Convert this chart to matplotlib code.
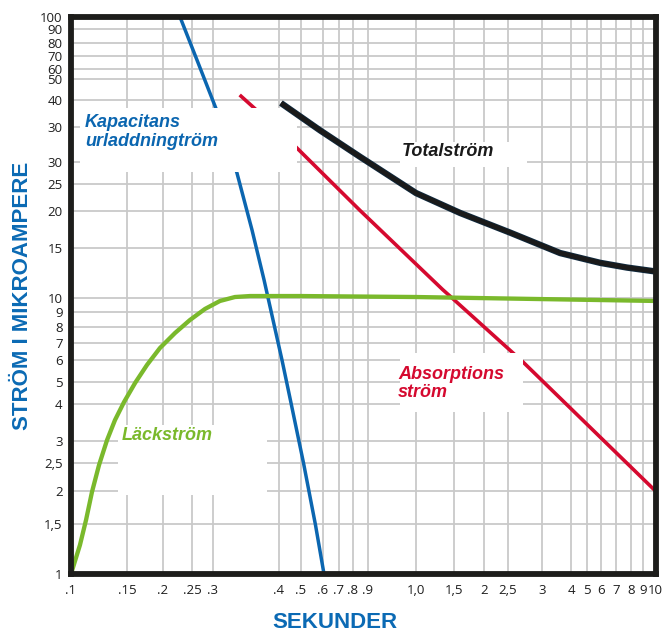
import numpy as np
import matplotlib
matplotlib.use("Agg")
import matplotlib.pyplot as plt
from matplotlib.ticker import NullLocator, FixedLocator, FixedFormatter
from matplotlib.patches import Rectangle

# ---------------- data ----------------
x_tick_values = [0.1, 0.15, 0.2, 0.25, 0.3, 0.4, 0.5, 0.6, 0.7, 0.8, 0.9,
                 1.0, 1.5, 2, 2.5, 3, 4, 5, 6, 7, 8, 9, 10]
x_tick_labels = ['.1', '.15', '.2', '.25', '.3', '.4', '.5', '.6', '.7', '.8', '.9',
                 '1,0', '1,5', '2', '2,5', '3', '4', '5', '6', '7', '8', '9', '10']
y_tick_values = [1, 1.5, 2, 2.5, 3, 4, 5, 6, 7, 8, 9, 10, 15, 20, 25, 30, 35,
                 40, 50, 60, 70, 80, 90, 100]
y_tick_labels = ['1', '1,5', '2', '2,5', '3', '4', '5', '6', '7', '8', '9', '10',
                 '15', '20', '25', '30', '30', '40', '50', '60', '70', '80', '90', '100']

# Kapacitans urladdningström
cap_x = [0.228, 0.261, 0.3046, 0.333, 0.3556, 0.3748, 0.4123, 0.4519, 0.5105, 0.5638, 0.6058]
cap_y = [100, 66.8, 38.1, 27.4, 17.26, 11.57, 6.0, 4.04, 2.5, 1.488, 1.0]

# Absorptionsström
abs_x = [0.337, 0.40, 0.48, 0.845, 1.33, 1.47, 2.71, 10]
abs_y = [42.2, 34.5, 31.9, 20.1, 10.7, 10.0, 5.9, 2.0]

# Läckström
leak_x = [0.1, 0.1067, 0.1115, 0.1164, 0.1225, 0.1298, 0.1375, 0.1468, 0.16, 0.176,
          0.1952, 0.2194, 0.246, 0.2799, 0.3093, 0.3301, 0.3524, 0.5, 1.0, 10]
leak_y = [1.0, 1.265, 1.553, 1.983, 2.46, 3.02, 3.53, 4.08, 4.95, 5.76,
          6.69, 7.61, 8.45, 9.21, 9.78, 10.08, 10.16, 10.16, 10.08, 9.78]

# Totalström
tot_x = [0.408, 0.585, 0.845, 1.0, 1.59, 2.53, 3.59, 5.93, 7.72, 10]
tot_y = [39.4, 34.5, 30.7, 23.2, 19.7, 16.9, 14.4, 13.3, 12.8, 12.4]

# ---------------- irregular printed grid scale (layout) ----------------
x_grid_pos = np.array([71, 127, 163, 192, 213, 279, 301, 323, 339, 353, 368,
                       416, 454, 484, 508, 542, 571, 587, 601, 616, 631, 643, 655.5], float)
y_grid_pos = -np.array([574, 524, 491, 463, 441, 404, 382, 360, 343, 327, 312, 298,
                        248, 211, 184, 162, 127, 100, 79, 69, 56, 43, 29, 17], float)

lx = np.log10(np.array(x_tick_values, float))
ly = np.log10(np.array(y_tick_values, float))


def make_funcs(logv, pos):
    def fwd(v):
        v = np.asarray(v, float)
        return np.interp(np.log10(np.clip(v, 1e-9, None)), logv, pos)

    def inv(p):
        p = np.asarray(p, float)
        return 10 ** np.interp(p, pos, logv)
    return fwd, inv


fx, fx_inv = make_funcs(lx, x_grid_pos)
fy, fy_inv = make_funcs(ly, y_grid_pos)

# ---------------- figure ----------------
fig = plt.figure(figsize=(6.67, 6.33), dpi=100)
ax = fig.add_axes([71 / 667, 1 - 574 / 633, 584.5 / 667, 557 / 633])
ax.set_xscale('function', functions=(fx, fx_inv))
ax.set_yscale('function', functions=(fy, fy_inv))
ax.set_xlim(0.1, 10)
ax.set_ylim(1, 100)

ax.xaxis.set_major_locator(FixedLocator(x_tick_values))
ax.xaxis.set_major_formatter(FixedFormatter(x_tick_labels))
ax.yaxis.set_major_locator(FixedLocator(y_tick_values))
ax.yaxis.set_major_formatter(FixedFormatter(y_tick_labels))
ax.xaxis.set_minor_locator(NullLocator())
ax.yaxis.set_minor_locator(NullLocator())

ax.set_axisbelow(True)
ax.grid(True, color='#c9c9c9', linewidth=1.3)
ax.tick_params(length=0, labelsize=9.5, colors='#1e1e1e')
ax.tick_params(axis='x', pad=7)
ax.tick_params(axis='y', pad=6)
for lab in ax.get_xticklabels() + ax.get_yticklabels():
    lab.set_fontfamily('Open Sans')

for s in ax.spines.values():
    s.set_linewidth(4.2)
    s.set_color('#1d1d1b')
    s.set_zorder(10)

blue = '#0b66b0'
red = '#d5092f'
green = '#7ab92c'

ax.plot(cap_x, cap_y, color=blue, lw=2.5, zorder=2, solid_capstyle='butt',
        solid_joinstyle='round')
ax.plot(abs_x, abs_y, color=red, lw=2.6, zorder=2, solid_capstyle='butt',
        solid_joinstyle='round')
ax.plot(leak_x, leak_y, color=green, lw=3.1, zorder=2, solid_capstyle='butt',
        solid_joinstyle='round')

# white label backgrounds (axes fraction)
boxes = [(0.0154, 0.7217, 0.371, 0.1149),
         (0.5629, 0.7307, 0.2173, 0.0449),
         (0.5629, 0.2908, 0.2104, 0.1059),
         (0.0804, 0.1418, 0.2549, 0.1257)]
for (bx, by, bw, bh) in boxes:
    ax.add_patch(Rectangle((bx, by), bw, bh, transform=ax.transAxes,
                           facecolor='white', edgecolor='none', zorder=3))

ax.plot(tot_x, tot_y, color='#0f2a3f', lw=4.6, zorder=4, solid_capstyle='butt',
        solid_joinstyle='round')
ax.plot(tot_x, tot_y, color='#1a1a1a', lw=3.4, zorder=4.1, solid_capstyle='butt',
        solid_joinstyle='round')

lab_kw = dict(fontsize=13, fontweight='bold', fontstyle='italic',
              family='Liberation Sans', transform=ax.transAxes, zorder=6,
              ha='left', va='center', linespacing=1.15)
ax.text(0.024, 0.7935, 'Kapacitans\nurladdningtröm', color=blue, **lab_kw)
ax.text(0.566, 0.7594, 'Totalström', color='#1a1a1a', **lab_kw)
ax.text(0.5595, 0.342, 'Absorptions\nström', color=red, **lab_kw)
ax.text(0.0873, 0.2495, 'Läckström', color=green, **lab_kw)

lbl_kw = dict(fontsize=16, fontweight='bold', family='Liberation Sans', color='#0b6ab4')
fig.text(23 / 667, 1 - 295.5 / 633, 'STRÖM I MIKROAMPERE', rotation=90,
         ha='center', va='center', **lbl_kw)
fig.text(335 / 667, 1 - 622 / 633, 'SEKUNDER', ha='center', va='center', **lbl_kw)

fig.savefig('out.png', dpi=100)
